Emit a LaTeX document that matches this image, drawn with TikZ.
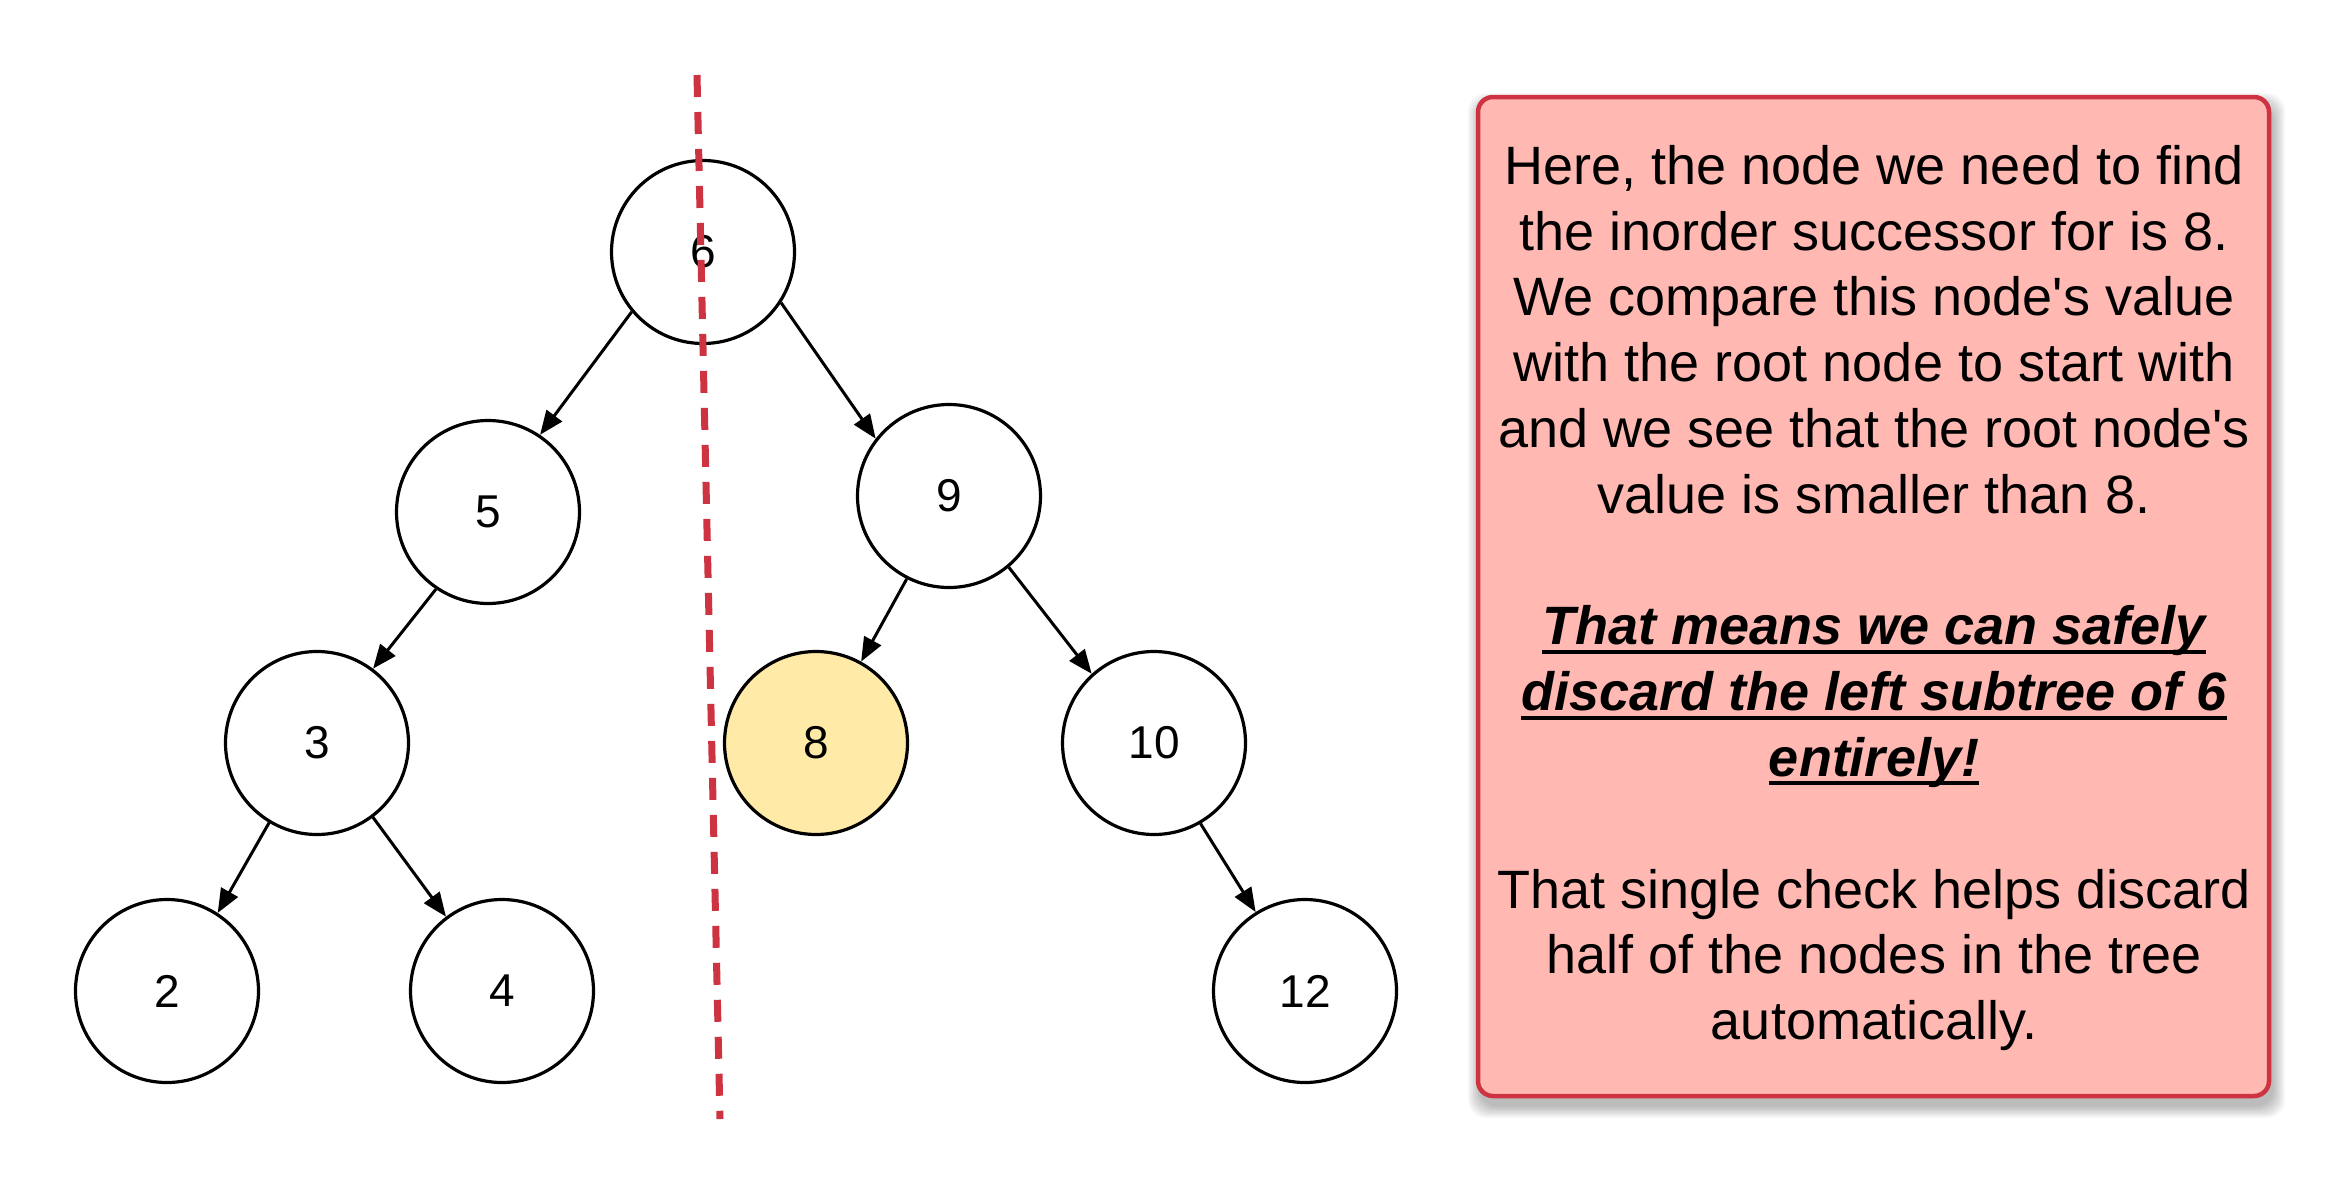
\documentclass[tikz,border=0pt]{standalone}
\usepackage{fontspec}
\setmainfont{Liberation Sans}
\usetikzlibrary{arrows.meta}
\definecolor{redline}{HTML}{CD3341}
\definecolor{boxfill}{HTML}{FFB9B2}
\definecolor{hilite}{HTML}{FFEAA7}
\newcommand\myul[1]{\setbox0\hbox{#1}\rlap{\rule[-9pt]{\wd0}{4pt}}\box0}
\begin{document}
\begin{tikzpicture}[x=1pt,y=-1pt,
  treenode/.style={circle,draw=black,line width=3.2pt,fill=white,minimum size=183pt,inner sep=0pt,font=\fontsize{46}{54}\selectfont},
  edge/.style={line width=3pt,-{Triangle[length=24pt,width=19pt]}},
  cutline/.style={draw=redline,line width=7pt,dash pattern=on 22pt off 15pt},
  notebox/.style={draw=redline,line width=4.5pt,fill=boxfill,rounded corners=15pt,minimum width=791pt,minimum height=999pt,inner sep=0pt},
  shadowlayer/.style={fill=black,opacity=0.035,rounded corners=18pt}
]
\useasboundingbox[fill=white] (0,0) rectangle (2344,1194);
% tree nodes
\node[treenode] (n6) at (703,252) {6};
\node[treenode] (n5) at (488,512) {5};
\node[treenode] (n9) at (949,496) {9};
\node[treenode] (n3) at (317,743) {3};
\node[treenode,fill=hilite] (n8) at (816,743) {8};
\node[treenode] (n10) at (1154,743) {10};
\node[treenode] (n2) at (167,991) {2};
\node[treenode] (n4) at (502,991) {4};
\node[treenode] (n12) at (1305,991) {12};
% edges
\draw[edge] (n6.220) -- (n5.56);
\draw[edge] (n6.327) -- (n9.142);
\draw[edge] (n5.236) -- (n3.53);
\draw[edge] (n9.243) -- (n8.61);
\draw[edge] (n9.310) -- (n10.132);
\draw[edge] (n3.239) -- (n2.57);
\draw[edge] (n3.307) -- (n4.127);
\draw[edge] (n10.300) -- (n12.122);
% cut line
\coordinate (cuttop) at (697,75);
\coordinate (cutbot) at (720,1119);
\draw[cutline] (cuttop) -- (cutbot);
% note box shadow
\foreach \i in {1,...,8}
  \fill[shadowlayer] (1478+3-\i*1.6,97+9-\i*1.6) rectangle (2269+3+\i*1.6,1096+9+\i*1.6);
\node[notebox] (box) at (1873.5,596.5) {};
\node[align=center,font=\fontsize{54}{65.8}\selectfont] (txt) at (1874,598) {%
Here, the node we need to find\\
the inorder successor for is 8.\\
We compare this node\textquotesingle s value\\
with the root node to start with\\
and we see that the root node\textquotesingle s\\
value is smaller than 8.\\[65.8pt]
{\bfseries\itshape\myul{That means we can safely}}\\
{\bfseries\itshape\myul{discard the left subtree of 6}}\\
{\bfseries\itshape\myul{entirely!}}\\[65.8pt]
That single check helps discard\\
half of the nodes in the tree\\
automatically.};
\end{tikzpicture}
\end{document}
